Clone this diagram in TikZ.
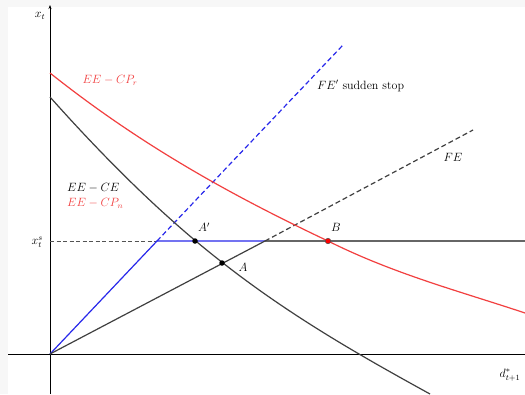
\documentclass[tikz,border=0pt]{standalone}
\usetikzlibrary{arrows.meta,positioning,calc}
\definecolor{eecolor}{RGB}{64,64,64}
\definecolor{cpcolor}{RGB}{242,64,64}
\definecolor{sscolor}{RGB}{40,40,235}
\tikzset{
  axis/.style={black, line width=1pt},
  ee curve/.style={eecolor, line width=1.2pt},
  cp curve/.style={cpcolor, line width=1.2pt},
  fe line/.style={eecolor, line width=1.2pt},
  ss line/.style={sscolor, line width=1.2pt},
  long dash/.style={dash pattern=on 5pt off 3pt},
  short dash/.style={dash pattern=on 4pt off 2.5pt},
  eq point/.style={circle, fill=black, inner sep=0pt, minimum size=5.5pt},
  lbl/.style={font=\large, inner sep=1pt}
}
\begin{document}
\begin{tikzpicture}[x=1pt, y=-1pt]

  % Frame
  \fill[gray!6] (0,0) rectangle (525,394);
  \fill[white] (8,7) rectangle (525,394);
  \useasboundingbox (0,0) rectangle (525,394);

  % Key points
  \coordinate (O) at (50,354);
  \coordinate (ytop) at (50,5);
  \coordinate (ybot) at (50,394);
  \coordinate (xleft) at (8,354);
  \coordinate (xright) at (525,354);
  \coordinate (Ks) at (157,241);
  \coordinate (Kf) at (265,241);
  \coordinate (Hr) at (525,241);
  \coordinate (ssend) at (343,45);
  \coordinate (feend) at (473,130);

  % Axes
  \draw[axis, -{Stealth[length=4pt]}] (ybot) -- (ytop);
  \draw[axis] (xleft) -- (xright);
  \node[lbl] (xt) at (40,16) {$x_t$};
  \node[lbl] (dt) at (510,375) {$d^*_{t+1}$};
  \node[lbl, anchor=east] (xts) at (44,242) {$x^s_t$};

  % Collateral level
  \draw[eecolor!90, short dash, line width=1pt] (O |- Ks) -- (Ks);
  \draw[black!60, line width=1.4pt] (Kf) -- (Hr);

  % FE and FE'
  \draw[ss line] (O) -- (Ks) -- (Kf);
  \draw[ss line, long dash] (Ks) -- (ssend);
  \draw[fe line] (O) -- (Kf);
  \draw[fe line, long dash] (Kf) -- (feend);

  % Curves
  \draw[ee curve] (50,97) .. controls (108,162) and (165,218) .. (223,263)
                          .. controls (292,317) and (361,356) .. (430,394);
  \draw[cp curve] (50,73) .. controls (143,147) and (235,197) .. (328,241)
                          .. controls (394,274) and (459,291) .. (525,313);

  % Equilibria
  \node[eq point] (Ap) at (195,241) {};
  \node[eq point] (A) at (222,263) {};
  \node[eq point, fill=red, draw=black!70, line width=0.5pt] (B) at (328,241) {};
  \node[lbl] (Aplbl) at (204,227) {$A'$};
  \node[lbl] (Albl) at (243,267) {$A$};
  \node[lbl] (Blbl) at (336,227) {$B$};

  % Curve labels
  \node[lbl, cpcolor] (cpr) at (110,80) {$EE-CP_r$};
  \node[lbl, anchor=west] (ce) at (66,188) {$EE-CE$};
  \node[lbl, cpcolor, anchor=west] (cpn) at (66,203) {$EE-CP_n$};
  \node[lbl, anchor=west] (sslbl) at (316,86) {$FE'$ sudden stop};
  \node[lbl] (felbl) at (453,157) {$FE$};

\end{tikzpicture}
\end{document}
